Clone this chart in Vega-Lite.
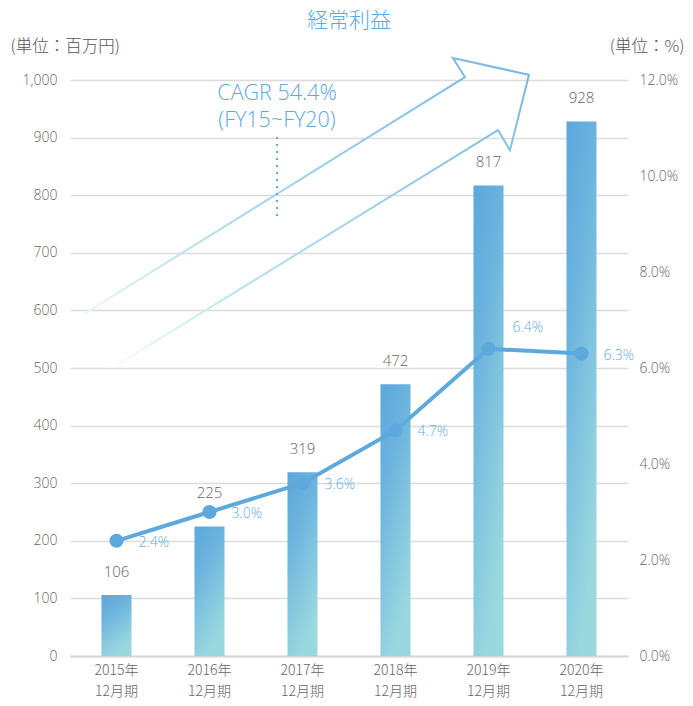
{
  "$schema": "https://vega.github.io/schema/vega-lite/v6.json",
  "autosize": {"type": "none"},
  "width": 558,
  "height": 576,
  "padding": {"left": 70, "top": 80, "right": 65, "bottom": 50},
  "title": {"text": "経常利益", "color": "#5DA9DD", "fontSize": 21, "fontWeight": 300, "font": "Noto Sans CJK JP", "anchor": "middle", "offset": 7},
  "config": {
    "view": {"stroke": null},
    "font": "Open Sans, Noto Sans CJK JP",
    "axis": {"labelFontWeight": 300, "titleFontWeight": 300, "titleFont": "Noto Sans CJK JP"},
    "text": {"fontWeight": 300}
  },
  "datasets": {
    "main": [
      {"period": "2015年12月期", "profit": 106, "margin": 2.4},
      {"period": "2016年12月期", "profit": 225, "margin": 3.0},
      {"period": "2017年12月期", "profit": 319, "margin": 3.6},
      {"period": "2018年12月期", "profit": 472, "margin": 4.7},
      {"period": "2019年12月期", "profit": 817, "margin": 6.4},
      {"period": "2020年12月期", "profit": 928, "margin": 6.3}
    ],
    "arrow": [
      {"i": 1, "ax": 0.161, "ay": 595},
      {"i": 2, "ax": 4.247, "ay": 1005},
      {"i": 3, "ax": 4.118, "ay": 1038},
      {"i": 4, "ax": 4.935, "ay": 1009},
      {"i": 5, "ax": 4.731, "ay": 878},
      {"i": 6, "ax": 4.602, "ay": 913},
      {"i": 7, "ax": 0.452, "ay": 500}
    ],
    "dots": [
      {"ax": 2.226, "ay": 901},
      {"ax": 2.226, "ay": 760}
    ],
    "cagr": [
      {"ax": 2.226, "ay": 976, "label": "CAGR 54.4%"},
      {"ax": 2.226, "ay": 928, "label": "(FY15~FY20)"}
    ]
  },
  "layer": [
    {
      "data": {"name": "main"},
      "layer": [
        {
          "layer": [
            {
              "mark": {
                "type": "bar",
                "color": {
                  "gradient": "linear",
                  "x1": 0, "y1": 0, "x2": 0.4, "y2": 1,
                  "stops": [
                    {"offset": 0, "color": "#5CA8DC"},
                    {"offset": 0.35, "color": "#6BB3DE"},
                    {"offset": 1, "color": "#9AD8DF"}
                  ]
                }
              },
              "encoding": {
                "x": {
                  "field": "period", "type": "nominal", "sort": null, "title": null,
                  "scale": {"paddingInner": 0.677, "paddingOuter": 0.3385},
                  "axis": {
                    "labelExpr": "[slice(datum.label,0,5), slice(datum.label,5)]",
                    "labelAngle": 0, "labelColor": "#666", "labelFontSize": 14,
                    "labelFont": "Noto Sans CJK JP",
                    "labelLineHeight": 21, "labelPadding": 7, "ticks": false,
                    "domain": true, "domainColor": "#d6d6d6", "domainWidth": 2
                  }
                },
                "y": {
                  "field": "profit", "type": "quantitative", "title": "(単位：百万円)",
                  "scale": {"domain": [0, 1000]},
                  "axis": {
                    "orient": "left",
                    "values": [0, 100, 200, 300, 400, 500, 600, 700, 800, 900, 1000],
                    "format": ",.0f",
                    "titleAngle": 0, "titleAlign": "left", "titleBaseline": "middle",
                    "titleX": -60, "titleY": -34, "titleColor": "#555",
                    "titleFontSize": 16.5,
                    "labelColor": "#666", "labelFontSize": 14, "labelPadding": 13,
                    "ticks": false, "domain": false,
                    "grid": true, "gridColor": "#dcdcdc", "gridWidth": 1.5
                  }
                }
              }
            },
            {
              "transform": [{"filter": "datum.profit != 225"}],
              "mark": {"type": "text", "dy": -23, "color": "#666", "fontSize": 15, "baseline": "middle"},
              "encoding": {
                "x": {"field": "period", "type": "nominal", "sort": null, "title": null},
                "y": {"field": "profit", "type": "quantitative"},
                "text": {"field": "profit", "type": "quantitative"}
              }
            },
            {
              "transform": [{"filter": "datum.profit == 225"}],
              "mark": {"type": "text", "dy": -33, "color": "#666", "fontSize": 15, "baseline": "middle"},
              "encoding": {
                "x": {"field": "period", "type": "nominal", "sort": null, "title": null},
                "y": {"field": "profit", "type": "quantitative"},
                "text": {"field": "profit", "type": "quantitative"}
              }
            }
          ]
        },
        {
          "transform": [{"calculate": "format(datum.margin, '.1f') + '%'", "as": "mlabel"}],
          "layer": [
            {
              "mark": {"type": "line", "color": "#5DA9DD", "strokeWidth": 4},
              "encoding": {
                "x": {"field": "period", "type": "nominal", "sort": null, "title": null},
                "y": {
                  "field": "margin", "type": "quantitative", "title": "(単位：%)",
                  "scale": {"domain": [0, 12]},
                  "axis": {
                    "orient": "right",
                    "values": [0, 2, 4, 6, 8, 10, 12],
                    "labelExpr": "format(datum.value, '.1f') + '%'",
                    "titleAngle": 0, "titleAlign": "right", "titleBaseline": "middle",
                    "titleX": 56, "titleY": -34, "titleColor": "#555",
                    "titleFontSize": 16.5,
                    "labelColor": "#666", "labelFontSize": 14, "labelPadding": 11,
                    "ticks": false, "domain": false, "grid": false
                  }
                }
              }
            },
            {
              "mark": {"type": "circle", "color": "#5DA9DD", "size": 200, "opacity": 1},
              "encoding": {
                "x": {"field": "period", "type": "nominal", "sort": null, "title": null},
                "y": {"field": "margin", "type": "quantitative"}
              }
            },
            {
              "transform": [{"filter": "datum.margin != 6.4"}],
              "mark": {"type": "text", "align": "left", "baseline": "middle", "dx": 22, "dy": 2, "color": "#64ADE0", "fontSize": 14},
              "encoding": {
                "x": {"field": "period", "type": "nominal", "sort": null, "title": null},
                "y": {"field": "margin", "type": "quantitative"},
                "text": {"field": "mlabel"}
              }
            },
            {
              "transform": [{"filter": "datum.margin == 6.4"}],
              "mark": {"type": "text", "align": "left", "baseline": "middle", "dx": 24, "dy": -21, "color": "#64ADE0", "fontSize": 14},
              "encoding": {
                "x": {"field": "period", "type": "nominal", "sort": null, "title": null},
                "y": {"field": "margin", "type": "quantitative"},
                "text": {"field": "mlabel"}
              }
            }
          ]
        }
      ],
      "resolve": {"scale": {"y": "independent"}}
    },
    {
      "layer": [
        {
          "data": {"name": "arrow"},
          "mark": {
            "type": "line",
            "strokeWidth": 2,
            "stroke": {
              "gradient": "linear",
              "x1": 0, "y1": 1, "x2": 1, "y2": 0,
              "stops": [
                {"offset": 0, "color": "#ffffff"},
                {"offset": 0.3, "color": "#b8e4ea"},
                {"offset": 1, "color": "#74b6e3"}
              ]
            }
          },
          "encoding": {
            "x": {"field": "ax", "type": "quantitative", "scale": {"domain": [0, 6]}, "axis": null},
            "y": {"field": "ay", "type": "quantitative", "scale": {"domain": [0, 1000]}, "axis": null},
            "order": {"field": "i"}
          }
        },
        {
          "data": {"name": "dots"},
          "mark": {"type": "line", "color": "#5DA9DD", "strokeWidth": 2, "strokeDash": [2, 5]},
          "encoding": {
            "x": {"field": "ax", "type": "quantitative", "scale": {"domain": [0, 6]}, "axis": null},
            "y": {"field": "ay", "type": "quantitative", "scale": {"domain": [0, 1000]}, "axis": null}
          }
        },
        {
          "data": {"name": "cagr"},
          "mark": {"type": "text", "color": "#5DA9DD", "fontSize": 21.5, "align": "center", "baseline": "middle"},
          "encoding": {
            "x": {"field": "ax", "type": "quantitative", "scale": {"domain": [0, 6]}, "axis": null},
            "y": {"field": "ay", "type": "quantitative", "scale": {"domain": [0, 1000]}, "axis": null},
            "text": {"field": "label"}
          }
        }
      ]
    }
  ],
  "resolve": {"scale": {"x": "independent", "y": "independent"}}
}
